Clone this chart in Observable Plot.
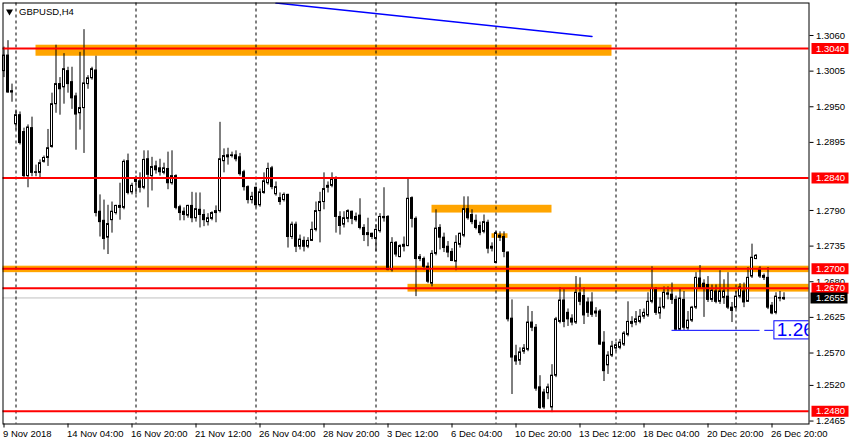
<!DOCTYPE html>
<html><head><meta charset="utf-8">
<script src="https://cdn.jsdelivr.net/npm/d3@7"></script>
<script src="https://cdn.jsdelivr.net/npm/@observablehq/plot@0.6"></script>
<style>
html,body{margin:0;padding:0;background:#fff;}
#chart svg{display:block;}
</style></head><body><div id="chart"></div>
<script>
// GBPUSD H4 candles, bar index 0 = 9 Nov 2018
const open = [
1.3005,1.3029,1.2974,1.2923,1.2937,1.2911,1.2843,1.2917,1.2848,1.2848,
1.2865,1.2871,1.2888,1.2954,1.2985,1.2980,1.3005,1.2988,1.2966,1.2940,
1.2948,1.2985,1.2994,1.3006,1.2788,1.2774,1.2748,1.2775,1.2786,1.2797,
1.2794,1.2866,1.2818,1.2838,1.2835,1.2825,1.2869,1.2843,1.2858,1.2855,
1.2848,1.2854,1.2832,1.2843,1.2795,1.2788,1.2782,1.2797,1.2778,1.2791,
1.2783,1.2772,1.2777,1.2786,1.2789,1.2866,1.2875,1.2875,1.2875,1.2872,
1.2849,1.2826,1.2806,1.2825,1.2798,1.2817,1.2832,1.2855,1.2815,1.2809,
1.2806,1.2814,1.2749,1.2768,1.2734,1.2743,1.2734,1.2743,1.2760,1.2789,
1.2803,1.2825,1.2828,1.2840,1.2780,1.2768,1.2777,1.2788,1.2780,1.2782,
1.2763,1.2755,1.2754,1.2746,1.2758,1.2780,1.2780,1.2698,1.2740,1.2718,
1.2737,1.2735,1.2809,1.2777,1.2715,1.2715,1.2703,1.2677,1.2723,1.2763,
1.2748,1.2734,1.2726,1.2711,1.2737,1.2751,1.2792,1.2783,1.2774,1.2766,
1.2757,1.2771,1.2731,1.2709,1.2751,1.2749,1.2725,1.2623,1.2565,1.2558,
1.2572,1.2575,1.2617,1.2609,1.2517,1.2509,1.2508,1.2486,1.2535,1.2618,
1.2651,1.2632,1.2623,1.2617,1.2662,1.2658,1.2648,1.2648,1.2634,1.2634,
1.2586,1.2551,1.2566,1.2577,1.2578,1.2583,1.2598,1.2618,1.2617,1.2618,
1.2626,1.2628,1.2649,1.2669,1.2631,1.2640,1.2662,1.2660,1.2652,1.2606,
1.2652,1.2608,1.2620,1.2640,1.2685,1.2677,1.2675,1.2652,1.2665,1.2649,
1.2655,1.2657,1.2640,1.2640,1.2657,1.2665,1.2649,1.2688,1.2715,1.2700,
1.2689,1.2686,1.2643,1.2632,1.2655,1.2653];
const high = [
1.3042,1.3052,1.2985,1.2945,1.2942,1.2917,1.2922,1.2934,1.2860,1.2868,
1.2874,1.2915,1.2971,1.3045,1.2995,1.3032,1.3011,1.3011,1.2971,1.3034,
1.3069,1.2998,1.3011,1.3028,1.2814,1.2806,1.2798,1.2803,1.2798,1.2832,
1.2868,1.2877,1.2832,1.2843,1.2848,1.2882,1.2882,1.2872,1.2866,1.2869,
1.2863,1.2880,1.2882,1.2845,1.2798,1.2794,1.2798,1.2818,1.2817,1.2817,
1.2791,1.2785,1.2788,1.2797,1.2926,1.2885,1.2886,1.2880,1.2882,1.2878,
1.2852,1.2828,1.2818,1.2826,1.2823,1.2848,1.2863,1.2858,1.2834,1.2817,
1.2817,1.2815,1.2772,1.2772,1.2752,1.2749,1.2748,1.2772,1.2803,1.2818,
1.2848,1.2834,1.2848,1.2842,1.2788,1.2788,1.2791,1.2789,1.2786,1.2808,
1.2768,1.2778,1.2755,1.2768,1.2785,1.2825,1.2782,1.2748,1.2742,1.2737,
1.2749,1.2840,1.2811,1.2780,1.2722,1.2718,1.2709,1.2728,1.2791,1.2768,
1.2755,1.2742,1.2731,1.2751,1.2755,1.2811,1.2811,1.2791,1.2783,1.2772,
1.2783,1.2775,1.2740,1.2758,1.2757,1.2757,1.2726,1.2652,1.2582,1.2578,
1.2583,1.2642,1.2634,1.2614,1.2535,1.2514,1.2522,1.2552,1.2625,1.2671,
1.2669,1.2638,1.2629,1.2688,1.2686,1.2671,1.2655,1.2663,1.2640,1.2637,
1.2603,1.2572,1.2588,1.2586,1.2591,1.2603,1.2649,1.2626,1.2634,1.2637,
1.2638,1.2663,1.2703,1.2671,1.2655,1.2672,1.2672,1.2678,1.2658,1.2668,
1.2665,1.2634,1.2642,1.2694,1.2705,1.2683,1.2688,1.2675,1.2675,1.2697,
1.2683,1.2694,1.2648,1.2665,1.2677,1.2678,1.2702,1.2738,1.2722,1.2703,
1.2692,1.2702,1.2648,1.2663,1.2665,1.2663];
const low = [
1.2995,1.2971,1.2957,1.2914,1.2891,1.2838,1.2825,1.2842,1.2842,1.2838,
1.2863,1.2858,1.2886,1.2940,1.2937,1.2954,1.2971,1.2946,1.2883,1.2914,
1.2878,1.2977,1.2991,1.2780,1.2749,1.2729,1.2722,1.2755,1.2783,1.2775,
1.2791,1.2814,1.2814,1.2814,1.2817,1.2822,1.2794,1.2820,1.2846,1.2843,
1.2845,1.2822,1.2829,1.2791,1.2774,1.2774,1.2778,1.2771,1.2772,1.2763,
1.2765,1.2766,1.2774,1.2771,1.2786,1.2848,1.2860,1.2871,1.2865,1.2843,
1.2820,1.2800,1.2800,1.2794,1.2795,1.2815,1.2829,1.2822,1.2812,1.2798,
1.2803,1.2732,1.2745,1.2725,1.2729,1.2726,1.2731,1.2742,1.2757,1.2740,
1.2791,1.2817,1.2825,1.2755,1.2752,1.2763,1.2771,1.2768,1.2772,1.2760,
1.2742,1.2734,1.2745,1.2726,1.2755,1.2772,1.2697,1.2695,1.2718,1.2717,
1.2726,1.2734,1.2763,1.2657,1.2711,1.2698,1.2677,1.2672,1.2720,1.2729,
1.2725,1.2717,1.2711,1.2697,1.2732,1.2748,1.2775,1.2768,1.2760,1.2751,
1.2754,1.2723,1.2726,1.2708,1.2742,1.2717,1.2618,1.2506,1.2551,1.2551,
1.2568,1.2572,1.2603,1.2511,1.2483,1.2483,1.2498,1.2478,1.2532,1.2615,
1.2609,1.2611,1.2612,1.2614,1.2643,1.2614,1.2625,1.2625,1.2625,1.2582,
1.2526,1.2537,1.2563,1.2572,1.2575,1.2580,1.2595,1.2609,1.2612,1.2615,
1.2622,1.2625,1.2646,1.2628,1.2622,1.2637,1.2652,1.2645,1.2605,1.2605,
1.2605,1.2605,1.2617,1.2637,1.2668,1.2625,1.2648,1.2648,1.2646,1.2645,
1.2645,1.2637,1.2617,1.2637,1.2654,1.2640,1.2649,1.2685,1.2714,1.2685,
1.2682,1.2637,1.2629,1.2629,1.2649,1.2651];
const close = [
1.3029,1.2972,1.2972,1.2937,1.2894,1.2843,1.2918,1.2848,1.2849,1.2863,
1.2871,1.2886,1.2954,1.2985,1.2977,1.3008,1.2985,1.2963,1.2938,1.2948,
1.2986,1.2994,1.3008,1.2786,1.2772,1.2746,1.2769,1.2788,1.2797,1.2794,
1.2865,1.2817,1.2828,1.2834,1.2825,1.2868,1.2845,1.2857,1.2852,1.2849,
1.2855,1.2832,1.2843,1.2794,1.2786,1.2783,1.2797,1.2778,1.2792,1.2783,
1.2775,1.2778,1.2786,1.2789,1.2869,1.2874,1.2872,1.2874,1.2869,1.2846,
1.2826,1.2806,1.2811,1.2798,1.2818,1.2835,1.2854,1.2826,1.2826,1.2803,
1.2814,1.2749,1.2768,1.2734,1.2745,1.2734,1.2743,1.2760,1.2789,1.2803,
1.2823,1.2828,1.2837,1.2780,1.2766,1.2778,1.2789,1.2777,1.2775,1.2763,
1.2752,1.2752,1.2749,1.2760,1.2780,1.2778,1.2698,1.2740,1.2722,1.2735,
1.2734,1.2808,1.2777,1.2715,1.2718,1.2703,1.2680,1.2723,1.2762,1.2748,
1.2732,1.2725,1.2712,1.2740,1.2754,1.2792,1.2778,1.2772,1.2763,1.2755,
1.2772,1.2731,1.2734,1.2755,1.2748,1.2726,1.2622,1.2563,1.2557,1.2571,
1.2577,1.2617,1.2609,1.2515,1.2485,1.2486,1.2517,1.2535,1.2622,1.2651,
1.2618,1.2622,1.2617,1.2663,1.2649,1.2628,1.2632,1.2629,1.2631,1.2583,
1.2542,1.2566,1.2580,1.2582,1.2586,1.2600,1.2618,1.2615,1.2622,1.2626,
1.2632,1.2649,1.2669,1.2632,1.2640,1.2663,1.2660,1.2652,1.2606,1.2654,
1.2609,1.2620,1.2640,1.2686,1.2671,1.2671,1.2652,1.2666,1.2649,1.2665,
1.2665,1.2640,1.2635,1.2657,1.2671,1.2648,1.2686,1.2717,1.2720,1.2688,
1.2686,1.2640,1.2631,1.2657,1.2654,1.2655];

// time axis labels (bar index -> label)
const timeTickIdx = [0,16,32,48,64,80,96,112,128,144,160,176,192];
const timeTickLabel = ["9 Nov 2018","14 Nov 04:00","16 Nov 20:00","21 Nov 12:00","26 Nov 04:00","28 Nov 20:00","3 Dec 12:00","6 Dec 04:00","10 Dec 20:00","13 Dec 12:00","18 Dec 04:00","20 Dec 20:00","26 Dec 20:00"];
// week separators (bar index)
const weekStartIdx = [3,33,63,93,123,153,183];
// price axis labels
const priceTicks = [1.3060,1.3005,1.2950,1.2895,1.2790,1.2735,1.2680,1.2625,1.2570,1.2520,1.2465];
// horizontal levels (red lines)
const redLevels = [1.3040,1.2840,1.2700,1.2670,1.2480];
const bidPrice = 1.2655;
// orange zones: full-width and rectangles [t1,t2,p1,p2]
const fullZones = [{p1:1.2694,p2:1.2704}];
const rectZones = [
  {t1:8,t2:152,p1:1.3028,p2:1.3045},
  {t1:101,t2:206,p1:1.2664,p2:1.2676},
  {t1:107,t2:137,p1:1.2786,p2:1.2798},
  {t1:122,t2:126,p1:1.2747,p2:1.2754}
];
// blue trend line
const trendPts = [{t:68,p:1.3110},{t:147,p:1.30585}];
// blue price label
const blueLevel = 1.2605;
const blueSegments = [{t1:167,t2:189},{t1:190.2,t2:192.4}];
const blueBox = {t1:192.6,t2:205,p1:1.2591,p2:1.2619};
const blueText = "1.2605";
const symbolTitle = "GBPUSD,H4";

const candles = open.map((o,i)=>({i,o,h:high[i],l:low[i],c:close[i]}));
const fmt = d3.format(".4f");
const labelBox = {draw(ctx){ctx.moveTo(-18.5,-5.5);ctx.lineTo(18.5,-5.5);ctx.lineTo(18.5,5.5);ctx.lineTo(-18.5,5.5);ctx.closePath();}};

const W=850,H=445;
const chart = Plot.plot({
  width: W, height: H,
  marginLeft: 2.5, marginTop: 2.5, marginRight: 41.5, marginBottom: 21.5,
  style: {fontFamily: "'Liberation Sans', Arial, sans-serif", fontSize: "9.5px", color: "black", background: "white", overflow: "visible"},
  x: {domain: [-0.25, 201.25], axis: "bottom", ticks: timeTickIdx, tickFormat: () => "", tickSize: 4, label: null},
  y: {domain: [1.246046, 1.311015], axis: "right", ticks: priceTicks, tickFormat: fmt, tickSize: 4, tickPadding: 3, label: null},
  marks: [
    Plot.rect(fullZones, {y1: "p1", y2: "p2", fill: "#ffa500"}),
    Plot.rect(rectZones, {x1: "t1", x2: "t2", y1: "p1", y2: "p2", fill: "#ffa500", clip: true}),
    Plot.ruleY([bidPrice], {stroke: "#c0c0c0"}),
    Plot.ruleX(weekStartIdx, {stroke: "black", strokeDasharray: "3,3"}),
    Plot.ruleX(candles, {x: "i", y1: "l", y2: "h", stroke: "black"}),
    Plot.rect(candles, {filter: d => d.c >= d.o, x1: d => d.i - 0.375, x2: d => d.i + 0.375, y1: "o", y2: "c", insetLeft: 0.5, insetRight: 0.5, fill: "white", stroke: "black"}),
    Plot.rect(candles, {filter: d => d.c < d.o, x1: d => d.i - 0.375, x2: d => d.i + 0.375, y1: "o", y2: "c", insetLeft: 0.5, insetRight: 0.5, fill: "black", stroke: "black"}),
    Plot.ruleY(redLevels, {stroke: "#ff0000", strokeWidth: 2}),
    Plot.line(trendPts, {x: "t", y: "p", stroke: "#0000ff", clip: true}),
    Plot.ruleY(blueSegments, {y: () => blueLevel, x1: "t1", x2: "t2", stroke: "#0000ff"}),
    Plot.rect([blueBox], {x1: "t1", x2: "t2", y1: "p1", y2: "p2", fill: "white", stroke: "#0000ff", clip: true}),
    Plot.text([blueText], {x: blueBox.t1 + 0.6, y: blueLevel, text: d => d, textAnchor: "start", fill: "#0000ff", fontSize: 19, clip: true}),
    Plot.frame({stroke: "black"}),
    // right-side price labels
    Plot.dot(redLevels, {y: d => d, frameAnchor: "right", dx: 21, symbol: labelBox, fill: "#ff0000", stroke: "none"}),
    Plot.text(redLevels, {y: d => d, text: fmt, frameAnchor: "right", dx: 7, textAnchor: "start", fill: "white"}),
    Plot.dot([bidPrice], {y: d => d, frameAnchor: "right", dx: 20, symbol: labelBox, fill: "black", stroke: "none"}),
    Plot.text([bidPrice], {y: d => d, text: fmt, frameAnchor: "right", dx: 7, textAnchor: "start", fill: "white"}),
    // time labels
    Plot.text(timeTickIdx, {x: d => d, text: (d, k) => timeTickLabel[k], frameAnchor: "bottom", textAnchor: "start", lineAnchor: "top", dy: 6, dx: -1}),
    // title
    Plot.dot([0], {frameAnchor: "top-left", dx: 6.5, dy: 8.5, symbol: "triangle", r: 2.6, rotate: 180, fill: "black", stroke: "none"}),
    Plot.text([symbolTitle], {text: d => d, frameAnchor: "top-left", dx: 16, dy: 5, textAnchor: "start", lineAnchor: "top"})
  ]
});
document.getElementById("chart").appendChild(chart);
</script></body></html>
